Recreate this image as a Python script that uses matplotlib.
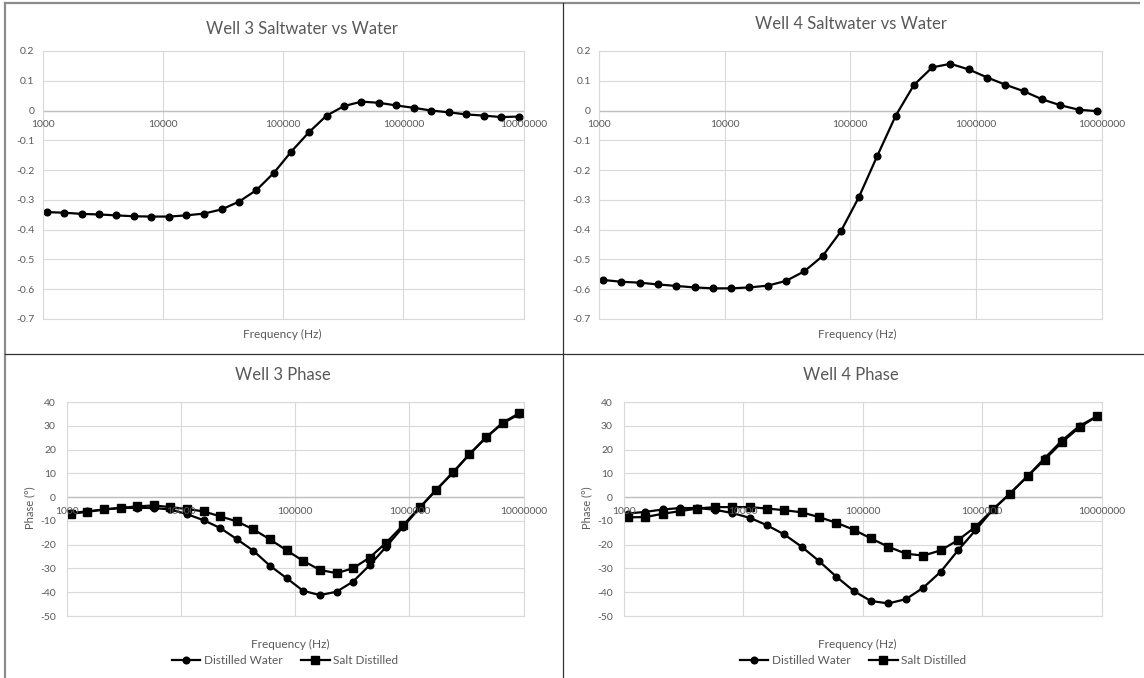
import matplotlib.pyplot as plt
from matplotlib.lines import Line2D

# frequencies (Hz), same sweep for every chart
freq = [1080, 1510, 2110, 2950, 4120, 5760, 8050, 11300, 15700, 22000,
        30800, 43000, 60100, 84000, 117000, 164000, 230000, 321000, 449000, 627000,
        877000, 1230000, 1710000, 2400000, 3350000, 4680000, 6550000, 9150000]

well3_diff = [-0.341, -0.343, -0.347, -0.349, -0.352, -0.355, -0.356, -0.356, -0.352, -0.346,
              -0.332, -0.306, -0.267, -0.209, -0.138, -0.073, -0.017, 0.015, 0.030, 0.026,
              0.017, 0.009, 0.000, -0.006, -0.013, -0.017, -0.022, -0.020]

well4_diff = [-0.569, -0.575, -0.578, -0.584, -0.589, -0.594, -0.597, -0.597, -0.594, -0.588,
              -0.572, -0.540, -0.489, -0.406, -0.291, -0.152, -0.017, 0.086, 0.145, 0.157,
              0.138, 0.111, 0.087, 0.065, 0.038, 0.018, 0.003, -0.002]

well3_water = [-6.7, -6.0, -5.2, -4.6, -4.5, -4.6, -5.2, -7.2, -9.7, -13.0,
               -17.7, -22.6, -28.9, -34.1, -39.4, -41.2, -39.8, -35.5, -28.6, -20.8,
               -12.6, -4.5, 3.1, 10.2, 18.0, 25.0, 31.0, 34.9]
well3_salt = [-7.0, -6.2, -5.2, -4.5, -3.9, -3.5, -4.2, -5.0, -6.0, -8.1,
              -10.2, -13.6, -17.8, -22.4, -26.8, -30.6, -32.0, -29.9, -25.4, -19.1,
              -11.9, -4.3, 2.8, 10.4, 18.0, 25.1, 31.3, 35.3]

well4_water = [-6.9, -6.2, -5.2, -4.6, -4.6, -5.3, -6.7, -8.7, -11.8, -15.7,
               -20.9, -26.9, -33.5, -39.5, -43.7, -44.7, -42.9, -38.1, -31.4, -22.4,
               -14.0, -5.2, 1.5, 8.8, 16.5, 23.9, 30.0, 34.0]
well4_salt = [-8.5, -8.4, -7.0, -5.9, -4.8, -4.2, -4.2, -4.2, -4.8, -5.5,
              -6.4, -8.4, -10.8, -13.7, -17.4, -20.9, -23.8, -24.6, -22.4, -18.1,
              -12.5, -5.2, 1.5, 8.8, 15.8, 23.2, 29.4, 34.0]

decades = [1000, 10000, 100000, 1000000, 10000000]
diff_ticks = [0.2, 0.1, 0, -0.1, -0.2, -0.3, -0.4, -0.5, -0.6, -0.7]
phase_ticks = [40, 30, 20, 10, 0, -10, -20, -30, -40, -50]

W, H = 1144, 678
GRAY = '#595959'
plt.rcParams['font.family'] = ['Lato', 'DejaVu Sans']

fig = plt.figure(figsize=(W / 100, H / 100), dpi=100)


def px_axes(x0, y0, x1, y1):
    return fig.add_axes([x0 / W, 1 - y1 / H, (x1 - x0) / W, (y1 - y0) / H])


def fig_text(x, y, s, **kw):
    fig.text(x / W, 1 - y / H, s, ha='center', va='center', color=GRAY, **kw)


def style(ax, yticks, ylim, fmt):
    ax.set_xscale('log')
    ax.set_xlim(1000, 1e7)
    ax.set_ylim(*ylim)
    ax.set_yticks(yticks)
    ax.set_yticklabels([fmt(t) for t in yticks], fontsize=7.5, color=GRAY)
    ax.set_xticks(decades)
    ax.set_xticklabels([])
    ax.minorticks_off()
    ax.tick_params(length=0, pad=6)
    ax.grid(True, color='#d9d9d9', lw=0.8)
    ax.set_axisbelow(True)
    for s in ax.spines.values():
        s.set_color('#d9d9d9')
        s.set_linewidth(0.8)
    ax.axhline(0, color='#bfbfbf', lw=1.0, zorder=1.5)
    for d in decades:
        ax.annotate(str(d), (d, 0), xytext=(0, -10), textcoords='offset points',
                    ha='center', va='center', fontsize=7.5, color=GRAY,
                    annotation_clip=False)


def diff_fmt(t):
    return '0' if t == 0 else ('%.1f' % t)


def phase_fmt(t):
    return str(t)


# top row: saltwater vs water
ax1 = px_axes(42.5, 51, 523.6, 319)
ax1.plot(freq, well3_diff, color='black', lw=1.6, marker='o', ms=4.8)
style(ax1, diff_ticks, (-0.7, 0.2), diff_fmt)
fig_text(302, 29, 'Well 3 Saltwater vs Water', fontsize=12)
fig_text(282, 334, 'Frequency (Hz)', fontsize=8.5)

ax2 = px_axes(599, 51, 1101.6, 319)
ax2.plot(freq, well4_diff, color='black', lw=1.6, marker='o', ms=4.8)
style(ax2, diff_ticks, (-0.7, 0.2), diff_fmt)
fig_text(851, 24, 'Well 4 Saltwater vs Water', fontsize=12)
fig_text(857, 334, 'Frequency (Hz)', fontsize=8.5)

# bottom row: phase
ax3 = px_axes(67, 402, 523.6, 616)
ax3.plot(freq, well3_water, color='black', lw=1.6, marker='o', ms=4.8, label='Distilled Water')
ax3.plot(freq, well3_salt, color='black', lw=1.6, marker='s', ms=5.2, label='Salt Distilled')
style(ax3, phase_ticks, (-50, 40), phase_fmt)
ax3.tick_params(pad=8)
fig_text(283, 375, 'Well 3 Phase', fontsize=12)
fig_text(290, 644, 'Frequency (Hz)', fontsize=8.5)
fig_text(30, 508, 'Phase (°)', fontsize=8, rotation=90)

ax4 = px_axes(624, 402, 1101.6, 616)
ax4.plot(freq, well4_water, color='black', lw=1.6, marker='o', ms=4.8, label='Distilled Water')
ax4.plot(freq, well4_salt, color='black', lw=1.6, marker='s', ms=5.2, label='Salt Distilled')
style(ax4, phase_ticks, (-50, 40), phase_fmt)
ax4.tick_params(pad=8)
fig_text(851, 375, 'Well 4 Phase', fontsize=12)
fig_text(857, 644, 'Frequency (Hz)', fontsize=8.5)
fig_text(587, 508, 'Phase (°)', fontsize=8, rotation=90)

for ax, cx in [(ax3, 285), (ax4, 853)]:
    leg = fig.legend(*ax.get_legend_handles_labels(), loc='center',
                     bbox_to_anchor=(cx / W, 1 - 661 / H), ncol=2, frameon=False,
                     fontsize=8.5, handlelength=2.4, handletextpad=0.3, columnspacing=1.6,
                     borderpad=0)
    for t in leg.get_texts():
        t.set_color(GRAY)

# panel borders
fig.add_artist(Line2D([5 / W, 5 / W], [0, 1 - 3 / H], color='#8c8c8c', lw=1.6))
fig.add_artist(Line2D([5 / W, 1139 / W], [1 - 3 / H, 1 - 3 / H], color='#8c8c8c', lw=1.6))
fig.add_artist(Line2D([562.5 / W, 562.5 / W], [0, 1 - 3 / H], color='#333333', lw=0.9))
fig.add_artist(Line2D([5 / W, 1], [1 - 354 / H, 1 - 354 / H], color='#333333', lw=0.9))

fig.savefig('out.png', dpi=100)
